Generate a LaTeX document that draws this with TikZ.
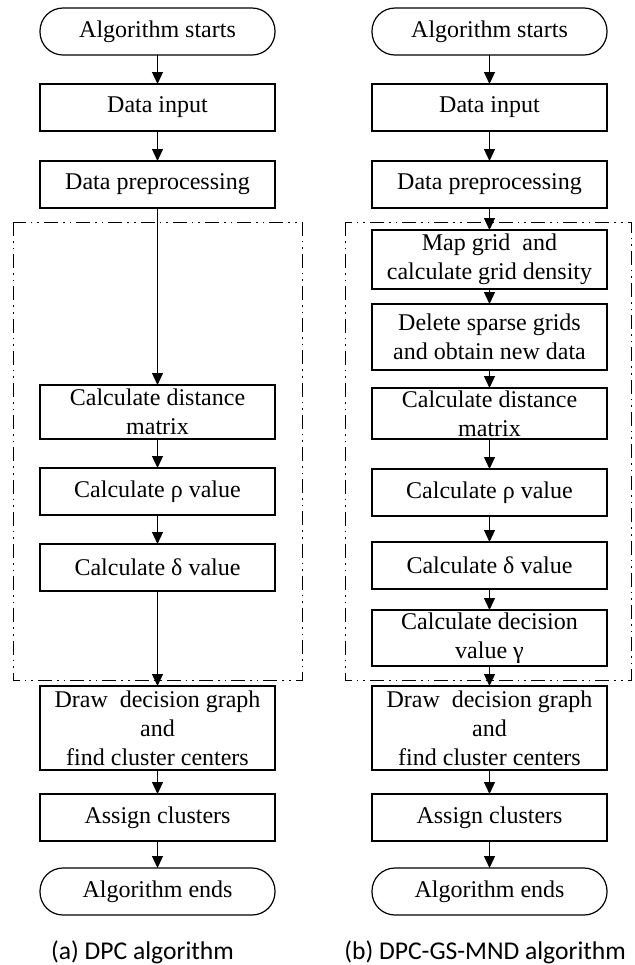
\documentclass[tikz,border=0pt]{standalone}
\usepackage{fontspec}
\setmainfont{Liberation Serif}
\newfontfamily\capfont{Carlito}
\usetikzlibrary{arrows.meta, positioning}

\begin{document}
\begin{tikzpicture}[
    box/.style={rectangle, draw=black, line width=0.6pt, minimum height=23.5pt,
                minimum width=117.5pt, inner xsep=2pt, inner ysep=-3pt, outer sep=0pt,
                align=center, font=\fontsize{12}{14.5}\selectfont},
    terminal/.style={box, rounded corners=11.5pt},
    arrow/.style={-{Triangle[length=6pt, width=5.5pt]}, line width=0.6pt, draw=black},
    frame/.style={draw=black, line width=0.5pt,
                  dash pattern=on 7pt off 2.5pt on 0.8pt off 2.5pt on 0.8pt off 2.5pt},
    captext/.style={font=\capfont\fontsize{12.8}{15}\selectfont},
]
\useasboundingbox (0,0) rectangle (317pt,-482.5pt);

% (a) DPC algorithm
\node[terminal] (a0) at (78.75pt,-15.75pt) {Algorithm starts};
\node[box, below=14.5pt of a0] (a1) {Data input};
\node[box, below=15pt of a1] (a2) {Data preprocessing};
\node[box, minimum height=27pt, below=88.5pt of a2] (a3) {Calculate distance\\matrix};
\node[box, below=14.5pt of a3] (a4) {Calculate ρ value};
\node[box, below=14.5pt of a4] (a5) {Calculate δ value};
\node[box, minimum height=42pt, below=47.5pt of a5] (a6) {Draw~ decision graph\\and\\find cluster centers};
\node[box, below=12pt of a6] (a7) {Assign clusters};
\node[terminal, below=13.5pt of a7] (a8) {Algorithm ends};
\node[captext] (capa) at (71.25pt,-476pt) {(a) DPC algorithm};

% (b) DPC-GS-MND algorithm
\node[terminal] (b0) at (244.75pt,-15.75pt) {Algorithm starts};
\node[box, below=14.5pt of b0] (b1) {Data input};
\node[box, below=15pt of b1] (b2) {Data preprocessing};
\node[box, minimum height=29.5pt, below=11pt of b2] (b3) {Map grid~ and\\calculate grid density};
\node[box, minimum height=33pt, below=7.5pt of b3] (b4) {Delete sparse grids\\and obtain new data};
\node[box, minimum height=25.5pt, below=9pt of b4] (b5) {Calculate distance\\matrix};
\node[box, below=15pt of b5] (b6) {Calculate ρ value};
\node[box, below=13pt of b6] (b7) {Calculate δ value};
\node[box, minimum height=28pt, below=10.5pt of b7] (b8) {Calculate decision\\value γ};
\node[box, minimum height=42pt, below=10pt of b8] (b9) {Draw~ decision graph\\and\\find cluster centers};
\node[box, below=12pt of b9] (b10) {Assign clusters};
\node[terminal, below=13.5pt of b10] (b11) {Algorithm ends};
\node[captext, anchor=east] (capb) at (316.5pt,-476pt) {(b) DPC-GS-MND algorithm};

% Dash-dotted groups
\draw[frame] (6.5pt,-111pt) rectangle (151pt,-340pt);
\draw[frame] (172.5pt,-111pt) rectangle (315.5pt,-340pt);

% Arrows
\foreach \i [count=\j] in {0,...,7} {
    \draw[arrow] (a\i) -- (a\j);
}
\foreach \i [count=\j] in {0,...,10} {
    \draw[arrow] (b\i) -- (b\j);
}

\end{tikzpicture}
\end{document}
